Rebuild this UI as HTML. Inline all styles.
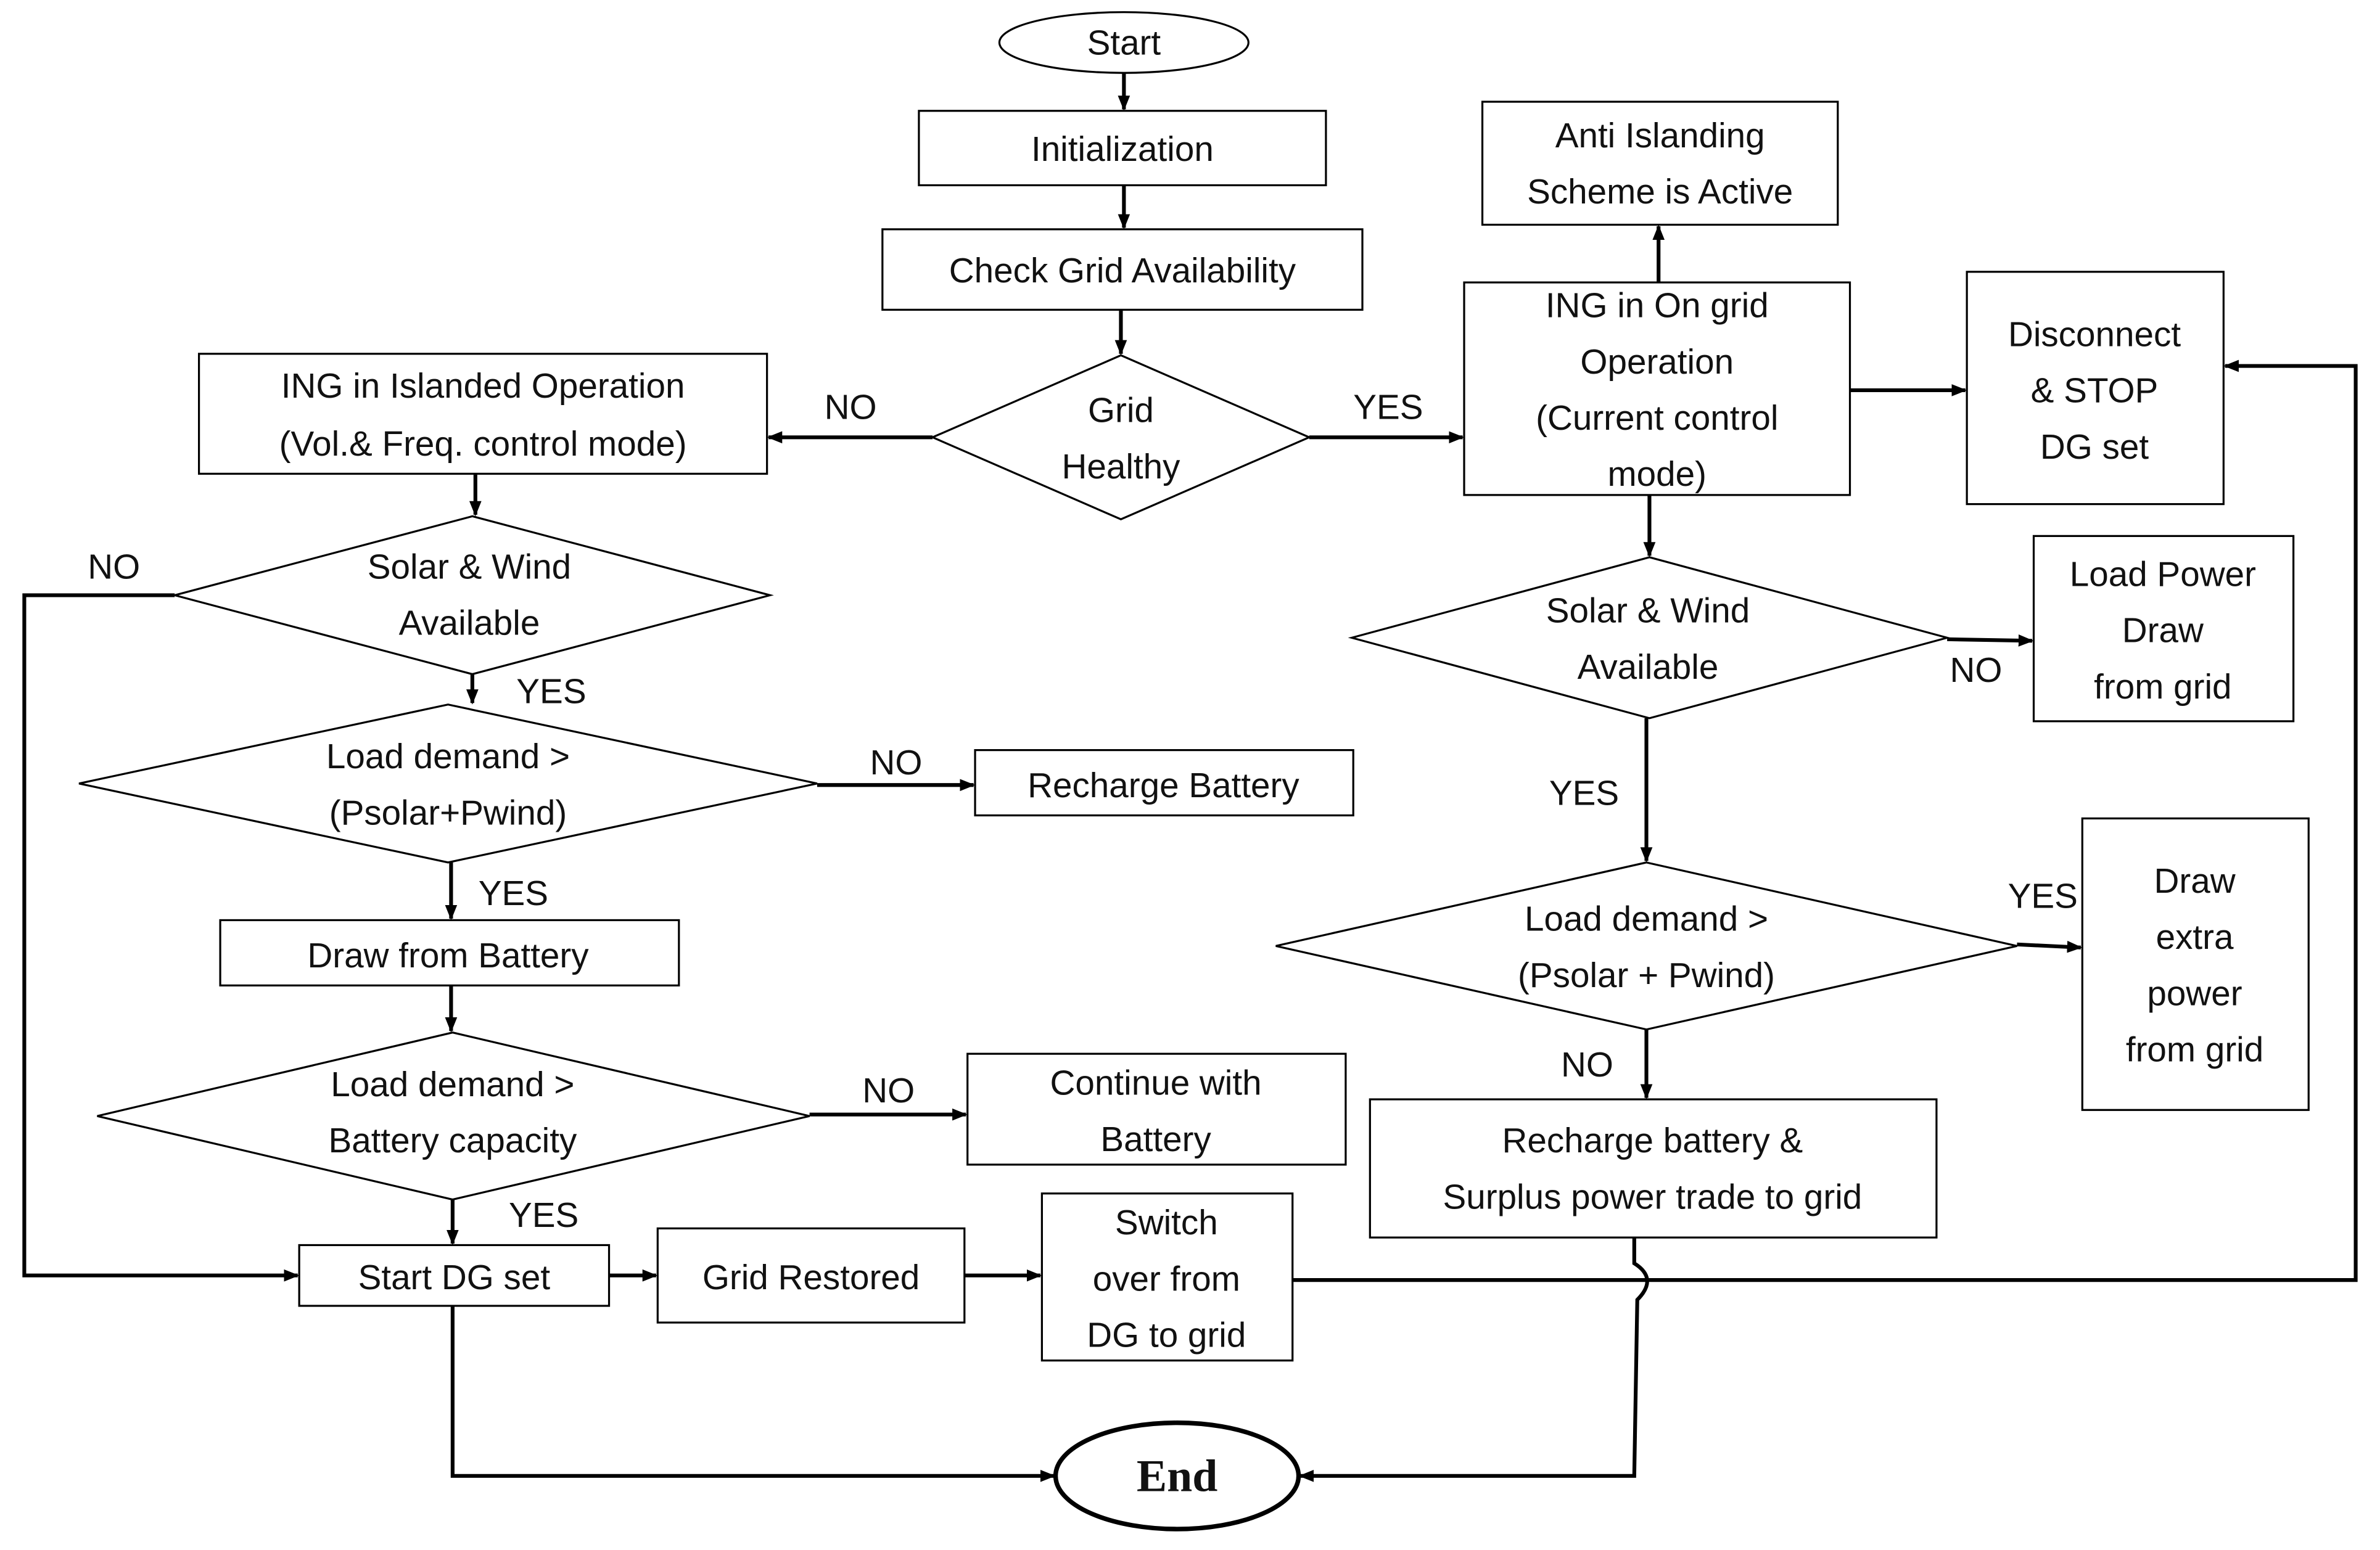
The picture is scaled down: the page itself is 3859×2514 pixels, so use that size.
<!DOCTYPE html>
<html><head><meta charset="utf-8"><style>
html,body{margin:0;padding:0;background:#fff;}
svg{display:block;}
text{font-family:"Liberation Sans",sans-serif;font-size:23px;fill:#111;text-anchor:middle;}
</style></head><body>
<svg width="3859" height="2514" viewBox="0 0 1567 1020.8" preserveAspectRatio="none" xmlns="http://www.w3.org/2000/svg">
<defs><marker id="a" markerWidth="10" markerHeight="10" refX="9" refY="5" orient="auto" markerUnits="userSpaceOnUse"><path d="M0,1 L10,5 L0,9 Z" fill="#000"/></marker></defs>
<g fill="#fff" stroke="#000" stroke-width="1.3">
<ellipse cx="740" cy="28" rx="82" ry="20"/>
<rect x="605" y="73" width="268" height="49"/>
<rect x="581" y="151" width="316" height="53"/>
<polygon points="614,288 738,234 862,288 738,342"/>
<rect x="131" y="233" width="374" height="79"/>
<rect x="964" y="186" width="254" height="140"/>
<rect x="976" y="67" width="234" height="81"/>
<rect x="1295" y="179" width="169" height="153"/>
<polygon points="115,392 311,340 507,392 311,444"/>
<polygon points="52,516 295,464 538,516 295,568"/>
<rect x="642" y="494" width="249" height="43"/>
<rect x="145" y="606" width="302" height="43"/>
<polygon points="64,735 298,680 533,735 298,790"/>
<rect x="637" y="694" width="249" height="73"/>
<rect x="197" y="820" width="204" height="40"/>
<rect x="433" y="809" width="202" height="62"/>
<rect x="686" y="786" width="165" height="110"/>
<polygon points="890,420 1086,367 1282,420 1086,473"/>
<rect x="1339" y="353" width="171" height="122"/>
<polygon points="840,623 1084,568 1328,623 1084,678"/>
<rect x="1371" y="539" width="149" height="192"/>
<rect x="902" y="724" width="373" height="91"/>
</g>
<ellipse cx="775" cy="972" rx="80" ry="35" fill="#fff" stroke="#000" stroke-width="3"/>
<g stroke="#000" stroke-width="2.5" fill="none">
<line x1="740" y1="48" x2="740" y2="72" marker-end="url(#a)"/>
<line x1="740" y1="122" x2="740" y2="150" marker-end="url(#a)"/>
<line x1="738" y1="204" x2="738" y2="233" marker-end="url(#a)"/>
<line x1="614" y1="288" x2="506" y2="288" marker-end="url(#a)"/>
<line x1="862" y1="288" x2="963" y2="288" marker-end="url(#a)"/>
<line x1="1092" y1="186" x2="1092" y2="149" marker-end="url(#a)"/>
<line x1="1218" y1="257" x2="1294" y2="257" marker-end="url(#a)"/>
<line x1="1086" y1="326" x2="1086" y2="366" marker-end="url(#a)"/>
<line x1="1282" y1="421" x2="1338" y2="422" marker-end="url(#a)"/>
<line x1="1084" y1="473" x2="1084" y2="567" marker-end="url(#a)"/>
<line x1="1328" y1="622" x2="1370" y2="624" marker-end="url(#a)"/>
<line x1="1084" y1="678" x2="1084" y2="723" marker-end="url(#a)"/>
<path d="M1076,815 L1076,832 Q1092,842 1078,856 L1076,972 L856,972" marker-end="url(#a)"/>
<path d="M851,843 L1551,843 L1551,241 L1465,241" marker-end="url(#a)"/>
<line x1="313" y1="312" x2="313" y2="339" marker-end="url(#a)"/>
<path d="M115,392 L16,392 L16,840 L196,840" marker-end="url(#a)"/>
<line x1="311" y1="444" x2="311" y2="463" marker-end="url(#a)"/>
<line x1="538" y1="517" x2="641" y2="517" marker-end="url(#a)"/>
<line x1="297" y1="568" x2="297" y2="605" marker-end="url(#a)"/>
<line x1="297" y1="649" x2="297" y2="679" marker-end="url(#a)"/>
<line x1="533" y1="734" x2="636" y2="734" marker-end="url(#a)"/>
<line x1="298" y1="790" x2="298" y2="819" marker-end="url(#a)"/>
<line x1="401" y1="840" x2="432" y2="840" marker-end="url(#a)"/>
<line x1="635" y1="840" x2="685" y2="840" marker-end="url(#a)"/>
<path d="M298,860 L298,972 L694,972" marker-end="url(#a)"/>
</g>
<text x="740" y="36">Start</text>
<text x="739" y="106">Initialization</text>
<text x="739" y="186">Check Grid Availability</text>
<text x="738" y="278">Grid</text>
<text x="738" y="315">Healthy</text>
<text x="318" y="262">ING in Islanded Operation</text>
<text x="318" y="300">(Vol.&amp; Freq. control mode)</text>
<text x="1091" y="209">ING in On grid</text>
<text x="1091" y="246">Operation</text>
<text x="1091" y="283">(Current control</text>
<text x="1091" y="320">mode)</text>
<text x="1093" y="97">Anti Islanding</text>
<text x="1093" y="134">Scheme is Active</text>
<text x="1379" y="228">Disconnect</text>
<text x="1379" y="265">&amp; STOP</text>
<text x="1379" y="302">DG set</text>
<text x="309" y="381">Solar &amp; Wind</text>
<text x="309" y="418">Available</text>
<text x="295" y="506">Load demand &gt;</text>
<text x="295" y="543">(Psolar+Pwind)</text>
<text x="766" y="525">Recharge Battery</text>
<text x="295" y="637">Draw from Battery</text>
<text x="298" y="722">Load demand  &gt;</text>
<text x="298" y="759">Battery capacity</text>
<text x="761" y="721">Continue with</text>
<text x="761" y="758">Battery</text>
<text x="299" y="849">Start DG set</text>
<text x="534" y="849">Grid Restored</text>
<text x="768" y="813">Switch</text>
<text x="768" y="850">over from</text>
<text x="768" y="887">DG to grid</text>
<text x="1085" y="410">Solar &amp; Wind</text>
<text x="1085" y="447">Available</text>
<text x="1424" y="386">Load Power</text>
<text x="1424" y="423">Draw</text>
<text x="1424" y="460">from grid</text>
<text x="1084" y="613">Load demand &gt;</text>
<text x="1084" y="650">(Psolar + Pwind)</text>
<text x="1445" y="588">Draw</text>
<text x="1445" y="625">extra</text>
<text x="1445" y="662">power</text>
<text x="1445" y="699">from grid</text>
<text x="1088" y="759">Recharge battery &amp;</text>
<text x="1088" y="796">Surplus power trade to grid</text>
<text x="775" y="982" style="font-family:'Liberation Serif',serif;font-weight:bold;font-size:30px">End</text>
<text x="560" y="276">NO</text>
<text x="914" y="276">YES</text>
<text x="1301" y="449">NO</text>
<text x="1043" y="530">YES</text>
<text x="1345" y="598">YES</text>
<text x="1045" y="709">NO</text>
<text x="75" y="381">NO</text>
<text x="363" y="463">YES</text>
<text x="590" y="510">NO</text>
<text x="338" y="596">YES</text>
<text x="585" y="726">NO</text>
<text x="358" y="808">YES</text>
</svg>
</body></html>
